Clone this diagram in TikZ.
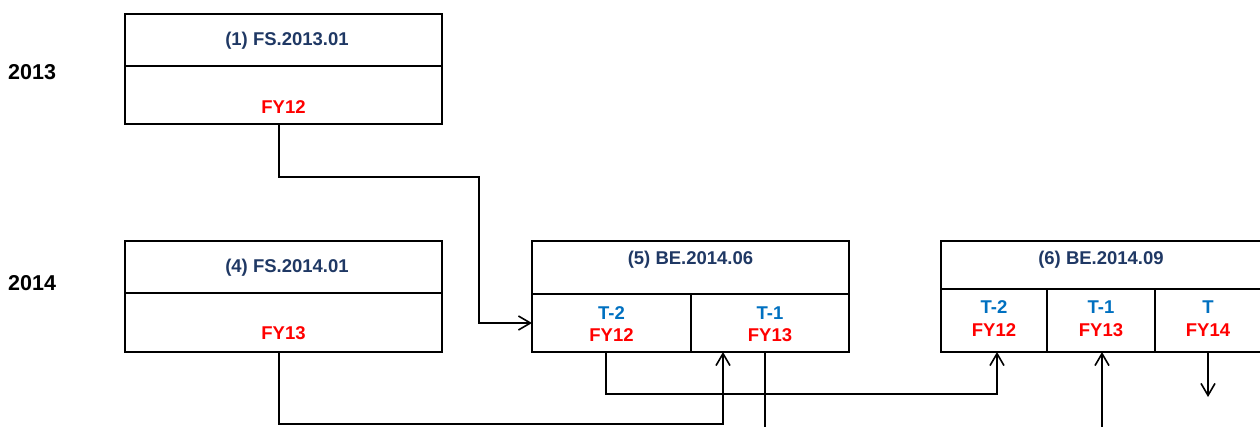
\documentclass[tikz,border=0pt]{standalone}
\usepackage{fontspec}
\setmainfont{Liberation Sans}
\usetikzlibrary{arrows.meta}
\definecolor{navy}{HTML}{1F3864}
\definecolor{tblue}{HTML}{0070C0}
\definecolor{fyred}{HTML}{FF0000}
\tikzset{
  cell/.style={draw, line width=1.6pt, inner sep=0pt, outer sep=0pt, anchor=north west, rectangle},
  lbl/.style={font=\fontsize{18.5}{20}\selectfont\bfseries, inner sep=0pt},
  ttl/.style={lbl, text=navy},
  tl/.style={lbl, text=tblue},
  fy/.style={lbl, text=fyred},
  yr/.style={font=\fontsize{21.5}{24}\selectfont\bfseries, inner sep=0pt, anchor=west},
  conn/.style={line width=1.6pt},
  arr/.style={conn, -{Straight Barb[length=12pt,width=14pt,line width=1.6pt]}}
}
\begin{document}
\begin{tikzpicture}[x=1pt,y=-1pt]
\useasboundingbox (0,0) rectangle (1260,426);
\clip (0,0) rectangle (1260,426);
% years
\node[yr] (y13) at (8,72) {2013};
\node[yr] (y14) at (8,283) {2014};
% box 1
\node[cell, minimum width=317pt, minimum height=52pt] (b1h) at (125,14) {};
\node[cell, minimum width=317pt, minimum height=58pt] (b1b) at (125,66) {};
\node[ttl] (t1) at (287,41) {(1) FS.2013.01};
\node[fy] (f1) at (283.5,107) {FY12};
% box 4
\node[cell, minimum width=317pt, minimum height=52pt] (b4h) at (125,241) {};
\node[cell, minimum width=317pt, minimum height=59pt] (b4b) at (125,293) {};
\node[ttl] (t4) at (287,268) {(4) FS.2014.01};
\node[fy] (f4) at (283.5,333) {FY13};
% box 5
\node[cell, minimum width=317pt, minimum height=53pt] (b5h) at (532,241) {};
\node[cell, minimum width=159pt, minimum height=58pt] (b5a) at (532,294) {};
\node[cell, minimum width=158pt, minimum height=58pt] (b5b) at (691,294) {};
\node[ttl] (t5) at (690.5,260) {(5) BE.2014.06};
\node[tl] (t5a) at (611.5,313) {T-2};
\node[fy] (f5a) at (611.5,335) {FY12};
\node[tl] (t5b) at (770,313) {T-1};
\node[fy] (f5b) at (770,335) {FY13};
% box 6
\node[cell, minimum width=320pt, minimum height=48pt] (b6h) at (941,241) {};
\node[cell, minimum width=106pt, minimum height=63pt] (b6a) at (941,289) {};
\node[cell, minimum width=108pt, minimum height=63pt] (b6b) at (1047,289) {};
\node[cell, minimum width=106pt, minimum height=63pt] (b6c) at (1155,289) {};
\node[ttl] (t6) at (1101,260) {(6) BE.2014.09};
\node[tl] (t6a) at (994,307) {T-2};
\node[fy] (f6a) at (994,330) {FY12};
\node[tl] (t6b) at (1101,307) {T-1};
\node[fy] (f6b) at (1101,330) {FY13};
\node[tl] (t6c) at (1208,307) {T};
\node[fy] (f6c) at (1208,330) {FY14};
% connectors
\coordinate (k1) at (479,177);
\draw[arr] ([xshift=-4.5pt]b1b.south) |- (k1) |- (b5a.west);
\coordinate (k2) at (723,424);
\draw[arr] ([xshift=-4.5pt]b4b.south) |- (k2) -- ([xshift=-47pt]b5b.south);
\coordinate (k3) at (997,394);
\draw[arr] ([xshift=-5.5pt]b5a.south) |- (k3) -- ([xshift=3pt]b6a.south);
\coordinate (e1) at (765,430);
\draw[conn] ([xshift=-5pt]b5b.south) -- (e1);
\coordinate (e2) at (1102,430);
\draw[arr] (e2) -- ([xshift=1pt]b6b.south);
\coordinate (e3) at (1208,397);
\draw[arr] (b6c.south) -- (e3);
\end{tikzpicture}
\end{document}
